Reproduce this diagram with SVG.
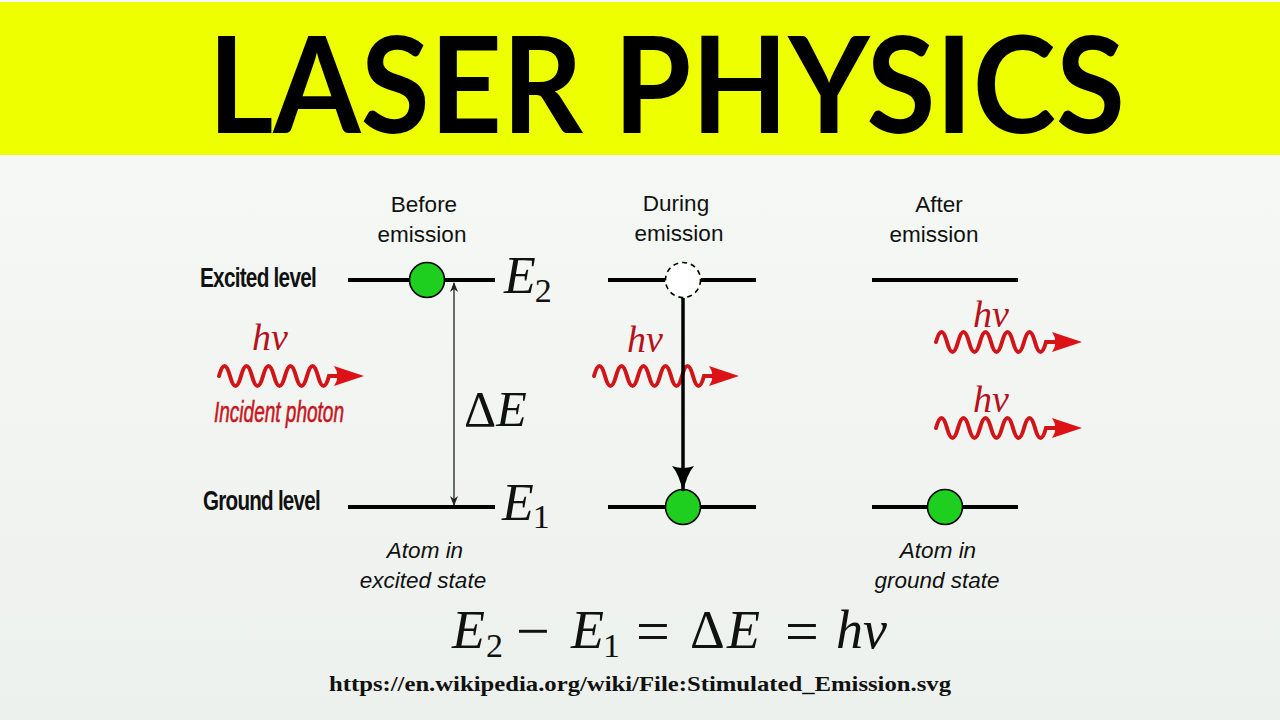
<svg xmlns="http://www.w3.org/2000/svg" width="1280" height="720" viewBox="0 0 1280 720">
  <style>
    .lbl { font-family: "Liberation Sans", Arial, sans-serif; font-size: 22.5px; fill: #111; }
    .ital { font-family: "Liberation Sans", Arial, sans-serif; font-size: 22.5px; font-style: italic; fill: #111; }
    .side { font-family: "Liberation Sans", Arial, sans-serif; font-size: 28px; font-weight: bold; fill: #111; letter-spacing: -1px; }
    .math { font-family: "Liberation Serif", "Times New Roman", serif; font-style: italic; fill: #111; }
    .up { font-family: "Liberation Serif", "Times New Roman", serif; font-style: normal; fill: #111; }
    .hv { font-family: "Liberation Serif", "Times New Roman", serif; font-style: italic; fill: #b5121b; }
    .level { stroke: #000; stroke-width: 4; fill: none; }
    .atom { fill: #1fcf1f; stroke: #000; stroke-width: 1.6; }
    .ghost { fill: #fff; stroke: #000; stroke-width: 1.6; stroke-dasharray: 5 4; }
    .wave { fill: none; stroke: #d01418; stroke-width: 4; stroke-linecap: round; }
    .whead { fill: #dc1216; }
  </style>
  <defs>
    <linearGradient id="bg" x1="0" y1="0" x2="0" y2="1">
      <stop offset="0" stop-color="#f7faf6"/>
      <stop offset="1" stop-color="#edf1ed"/>
    </linearGradient>
    <marker id="thin" viewBox="0 0 10 8" refX="9" refY="4" markerWidth="10" markerHeight="8" markerUnits="userSpaceOnUse" orient="auto-start-reverse">
      <path d="M0,0 L10,4 L0,8 L3,4 z" fill="#222"/>
    </marker>
    <marker id="thick" viewBox="0 0 26 24" refX="25" refY="12" markerWidth="26" markerHeight="24" markerUnits="userSpaceOnUse" orient="auto">
      <path d="M0,1 Q8,8 26,12 Q8,16 0,23 Q4,12 0,1 z" fill="#000"/>
    </marker>
    <path id="head" d="M0,0 L-30,-10 Q-23,0 -30,10 z"/>
  </defs>

  <rect x="0" y="0" width="1280" height="720" fill="url(#bg)"/>
  <g id="title">
    <rect x="0" y="2" width="1280" height="153" fill="#eeff00"/>
    <text x="208" y="133" font-family="Lato, 'Open Sans', sans-serif" font-weight="700" font-size="134" fill="#000" textLength="917" lengthAdjust="spacingAndGlyphs">LASER PHYSICS</text>
  </g>

  <g id="headers">
    <text class="lbl" x="424" y="212" text-anchor="middle">Before</text>
    <text class="lbl" x="422" y="242" text-anchor="middle">emission</text>
    <text class="lbl" x="676" y="211" text-anchor="middle">During</text>
    <text class="lbl" x="679" y="241" text-anchor="middle">emission</text>
    <text class="lbl" x="939" y="212" text-anchor="middle">After</text>
    <text class="lbl" x="934" y="242" text-anchor="middle">emission</text>
  </g>

  <g id="level-labels">
    <text class="side" x="200" y="287" textLength="116" lengthAdjust="spacingAndGlyphs">Excited level</text>
    <text class="side" x="203" y="510" textLength="117" lengthAdjust="spacingAndGlyphs">Ground level</text>
  </g>

  <g id="before">
    <line class="level" x1="348" y1="280" x2="495" y2="280"/>
    <line class="level" x1="348" y1="507" x2="495" y2="507"/>
    <circle class="atom" cx="427" cy="280" r="17.5"/>
    <text class="math" x="504" y="293" font-size="52">E<tspan class="up" font-size="34" dx="-1" dy="9">2</tspan></text>
    <text class="math" x="502" y="520" font-size="52">E<tspan class="up" font-size="34" dx="-1" dy="8">1</tspan></text>
    <text x="464" y="426" font-size="50"><tspan class="up">Δ</tspan><tspan class="math">E</tspan></text>
    <text class="ital" x="425" y="558" text-anchor="middle">Atom in</text>
    <text class="ital" x="423" y="588" text-anchor="middle">excited state</text>
  </g>

  <g id="during">
    <line class="level" x1="608" y1="280" x2="665" y2="280"/>
    <line class="level" x1="701" y1="280" x2="756" y2="280"/>
    <line class="level" x1="608" y1="507" x2="756" y2="507"/>
    <circle class="ghost" cx="683" cy="280" r="17.5"/>
    <circle class="atom" cx="683" cy="507" r="17.5"/>
  </g>

  <g id="after">
    <line class="level" x1="872" y1="280" x2="1018" y2="280"/>
    <line class="level" x1="872" y1="507" x2="1018" y2="507"/>
    <circle class="atom" cx="945" cy="507" r="17.5"/>
    <text class="ital" x="938" y="558" text-anchor="middle">Atom in</text>
    <text class="ital" x="937" y="588" text-anchor="middle">ground state</text>
  </g>

  <g id="photons">
    <g id="incident">
      <text class="hv" x="252" y="350" font-size="38">hν</text>
      <path class="wave" d="M219,376 q5.5,-20 11,0 t11,0 t11,0 t11,0 t11,0 t11,0 t11,0 t11,0 t11,0 t11,0 L341,376"/>
      <use href="#head" x="364" y="376" class="whead"/>
      <text x="214" y="422" font-family="'Liberation Sans', Arial, sans-serif" font-style="italic" font-size="30" fill="#c8161d" stroke="#c8161d" stroke-width="0.6" textLength="130" lengthAdjust="spacingAndGlyphs">Incident photon</text>
    </g>
    <g id="stimulating">
      <text class="hv" x="627" y="352" font-size="38">hν</text>
      <path class="wave" d="M594,376 q5.5,-20 11,0 t11,0 t11,0 t11,0 t11,0 t11,0 t11,0 t11,0 t11,0 t11,0 L716,376"/>
      <use href="#head" x="739" y="376" class="whead"/>
    </g>
    <g id="emitted1">
      <text class="hv" x="973" y="327" font-size="38">hν</text>
      <path class="wave" d="M936,342 q5.5,-20 11,0 t11,0 t11,0 t11,0 t11,0 t11,0 t11,0 t11,0 t11,0 t11,0 L1059,342"/>
      <use href="#head" x="1082" y="342" class="whead"/>
    </g>
    <g id="emitted2">
      <text class="hv" x="973" y="412" font-size="38">hν</text>
      <path class="wave" d="M936,428 q5.5,-20 11,0 t11,0 t11,0 t11,0 t11,0 t11,0 t11,0 t11,0 t11,0 t11,0 L1059,428"/>
      <use href="#head" x="1082" y="428" class="whead"/>
    </g>
  </g>

  <g id="connectors">
    <line x1="454" y1="283" x2="454" y2="505" stroke="#222" stroke-width="1.3" marker-start="url(#thin)" marker-end="url(#thin)"/>
    <line x1="683" y1="298" x2="683" y2="491" stroke="#000" stroke-width="3.5" marker-end="url(#thick)"/>
  </g>

  <g id="equation">
    <text class="math" x="452" y="648" font-size="54">E</text>
    <text class="up" x="486" y="657" font-size="34">2</text>
    <text class="up" x="516" y="651" font-size="60">−</text>
    <text class="math" x="571" y="648" font-size="54">E</text>
    <text class="up" x="603" y="657" font-size="34">1</text>
    <text class="up" x="636" y="651" font-size="60">=</text>
    <text class="up" x="690" y="648" font-size="54">Δ</text>
    <text class="math" x="727" y="648" font-size="54">E</text>
    <text class="up" x="785" y="651" font-size="60">=</text>
    <text class="math" x="836" y="648" font-size="54">hν</text>
  </g>

  <g id="source">
    <text x="329" y="691" font-family="'Liberation Serif', 'Times New Roman', serif" font-weight="bold" font-size="21" fill="#111" textLength="622" lengthAdjust="spacingAndGlyphs">https://en.wikipedia.org/wiki/File:Stimulated_Emission.svg</text>
  </g>
</svg>
